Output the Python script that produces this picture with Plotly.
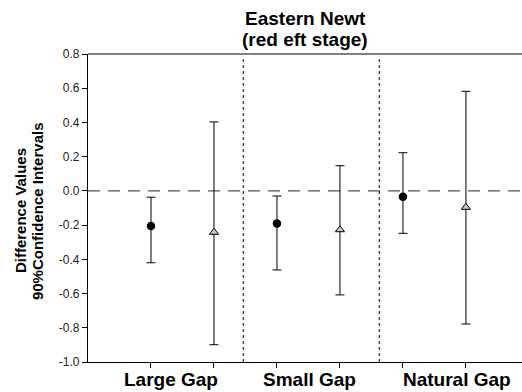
import plotly.graph_objects as go

# Group labels and positions of the two estimates in each group
groups = ["Large Gap", "Small Gap", "Natural Gap"]
group_label_x = [1.32, 3.51, 5.86]
circle_x = [1, 3, 5]
triangle_x = [2, 4, 6]

# Difference values with 90% confidence limits
circle_mean = [-0.205, -0.19, -0.034]
circle_upper = [-0.037, -0.03, 0.223]
circle_lower = [-0.42, -0.462, -0.248]

triangle_mean = [-0.242, -0.227, -0.096]
triangle_upper = [0.403, 0.147, 0.582]
triangle_lower = [-0.899, -0.608, -0.778]

y_ticks = [0.8, 0.6, 0.4, 0.2, 0.0, -0.2, -0.4, -0.6, -0.8, -1.0]
separators = [2.465, 4.624]

font = "Liberation Sans, Arial, sans-serif"

fig = go.Figure()


def add_series(xs, mean, upper, lower, marker):
    fig.add_trace(go.Scatter(
        x=xs, y=mean, mode="markers",
        marker=marker,
        error_y=dict(
            type="data", symmetric=False,
            array=[u - m for u, m in zip(upper, mean)],
            arrayminus=[m - l for m, l in zip(mean, lower)],
            color="black", thickness=1, width=4.5,
        ),
        showlegend=False, cliponaxis=False,
    ))


add_series(circle_x, circle_mean, circle_upper, circle_lower,
           dict(symbol="circle", size=8.5, color="black"))
add_series(triangle_x, triangle_mean, triangle_upper, triangle_lower,
           dict(symbol="triangle-up", size=8, color="#c8c8c8",
                line=dict(color="black", width=1)))

# Zero reference line
fig.add_shape(type="line", xref="x", yref="y", x0=0, x1=6.89, y0=0, y1=0,
              line=dict(color="#555555", width=1.3, dash="12px,8px"), layer="below")

# Dotted separators between gap types
for sx in separators:
    fig.add_shape(type="line", xref="x", yref="y", x0=sx, x1=sx, y0=-1.0, y1=0.77,
                  line=dict(color="black", width=1, dash="dot"))

# Top frame line
fig.add_shape(type="line", xref="paper", yref="paper", x0=0, x1=1, y0=1, y1=1,
              line=dict(color="black", width=1.2))

# Group labels
for g, gx in zip(groups, group_label_x):
    fig.add_annotation(x=gx, y=0, xref="x", yref="paper",
                       yshift=-17, text=f"<b>{g}</b>", showarrow=False,
                       font=dict(family=font, size=19, color="black"),
                       xanchor="center", yanchor="middle")

# Two-line title
for line, shift in [("Eastern Newt", 36), ("(red eft stage)", 15)]:
    fig.add_annotation(x=0.5, y=1, xref="paper", yref="paper", yshift=shift,
                       text=f"<b>{line}</b>", showarrow=False,
                       font=dict(family=font, size=19, color="black"),
                       xanchor="center", yanchor="middle")

# Two-line y-axis title
for line, shift in [("Difference Values", -68), ("90%Confidence Intervals", -51)]:
    fig.add_annotation(x=0, y=0.49, xref="paper", yref="paper", xshift=shift,
                       text=f"<b>{line}</b>", textangle=-90, showarrow=False,
                       font=dict(family=font, size=15, color="black"),
                       xanchor="center", yanchor="middle")

fig.update_layout(
    width=522, height=392,
    margin=dict(l=88, r=0, t=54, b=30),
    paper_bgcolor="white", plot_bgcolor="white",
    font=dict(family=font, color="black"),
    xaxis=dict(range=[0, 6.89], showgrid=False, zeroline=False,
               showline=True, linecolor="black", linewidth=1.2,
               tickmode="array", tickvals=circle_x + triangle_x,
               ticktext=[""] * 6, ticks="outside", ticklen=5,
               tickcolor="black", tickwidth=1),
    yaxis=dict(range=[-1.0, 0.8], showgrid=False, zeroline=False,
               showline=True, linecolor="black", linewidth=1.2,
               tickmode="array", tickvals=y_ticks,
               ticktext=[f"{v:.1f}" for v in y_ticks],
               ticks="outside", ticklen=5, tickcolor="black", tickwidth=1,
               tickfont=dict(family=font, size=12, color="#222222")),
)

fig.write_html("out.html")
